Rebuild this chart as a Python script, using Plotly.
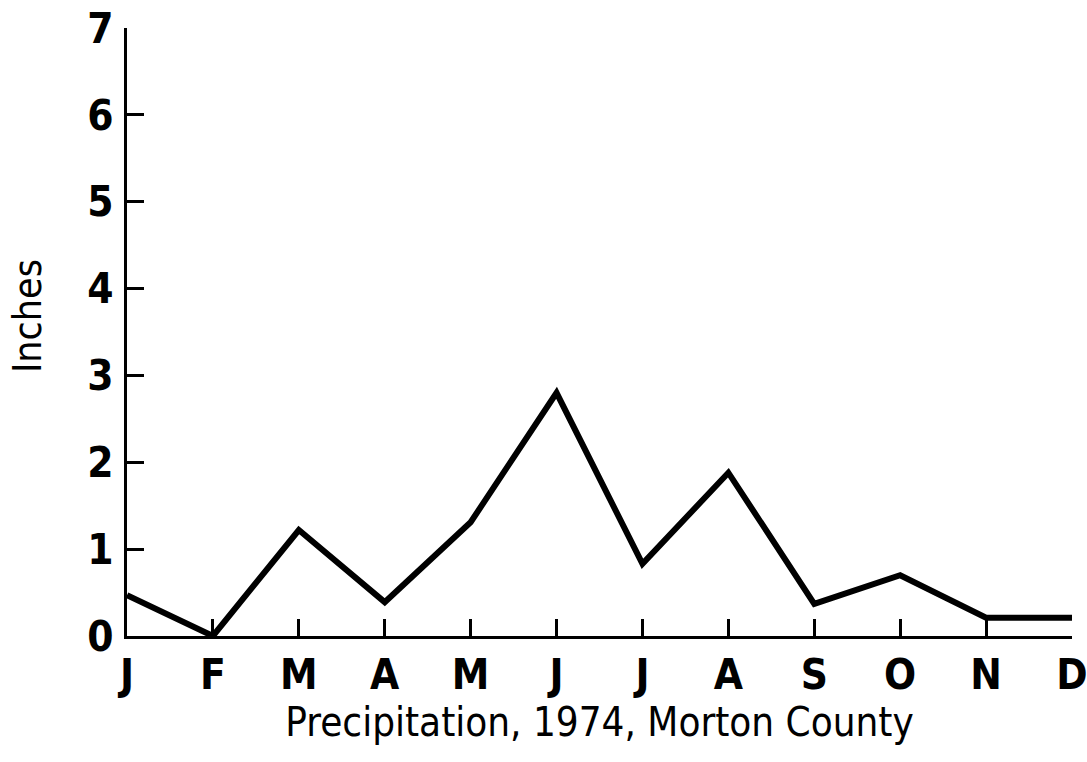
import plotly.graph_objects as go

# Monthly precipitation, Morton County, 1974 (inches)
months = ["J", "F", "M", "A", "M", "J", "J", "A", "S", "O", "N", "D"]
precip = [0.47, 0.0, 1.22, 0.39, 1.31, 2.80, 0.83, 1.88, 0.37, 0.70, 0.21, 0.21]
y_ticks = [0, 1, 2, 3, 4, 5, 6, 7]

x_pos = list(range(len(months)))

fig = go.Figure()
fig.add_trace(go.Scatter(
    x=x_pos, y=precip, mode="lines",
    line=dict(color="black", width=6),
    hoverinfo="skip", showlegend=False,
))

label_font = "DejaVu Sans Condensed, sans-serif"

fig.add_annotation(
    text="Inches", textangle=-90,
    xref="paper", yref="paper", x=-0.106, y=0.526,
    xanchor="center", yanchor="middle", showarrow=False,
    font=dict(family=label_font, size=39, color="black"),
)

fig.update_layout(
    width=1087, height=762,
    autosize=False,
    margin=dict(l=127, r=15, t=28, b=126),
    plot_bgcolor="white", paper_bgcolor="white",
    xaxis=dict(
        range=[0, 11], tickmode="array", tickvals=x_pos, ticktext=months,
        ticks="inside", ticklen=17, tickwidth=3, tickcolor="black",
        showline=True, linecolor="black", linewidth=3,
        showgrid=False, zeroline=False, automargin=False,
        ticklabeloverflow="allow",
        tickfont=dict(family=label_font, size=42, color="black", weight="bold"),
        title=dict(text="Precipitation, 1974, Morton County",
                   font=dict(family=label_font, size=40, color="black"),
                   standoff=2),
    ),
    yaxis=dict(
        range=[0, 7], tickmode="array", tickvals=y_ticks,
        ticks="inside", ticklen=17, tickwidth=3, tickcolor="black",
        showline=True, linecolor="black", linewidth=3,
        showgrid=False, zeroline=False, automargin=False,
        ticklabeloverflow="allow",
        tickfont=dict(family=label_font, size=42, color="black", weight="bold"),
        ticklabelstandoff=2,
    ),
)

fig.write_html("out.html", config={"responsive": False})
